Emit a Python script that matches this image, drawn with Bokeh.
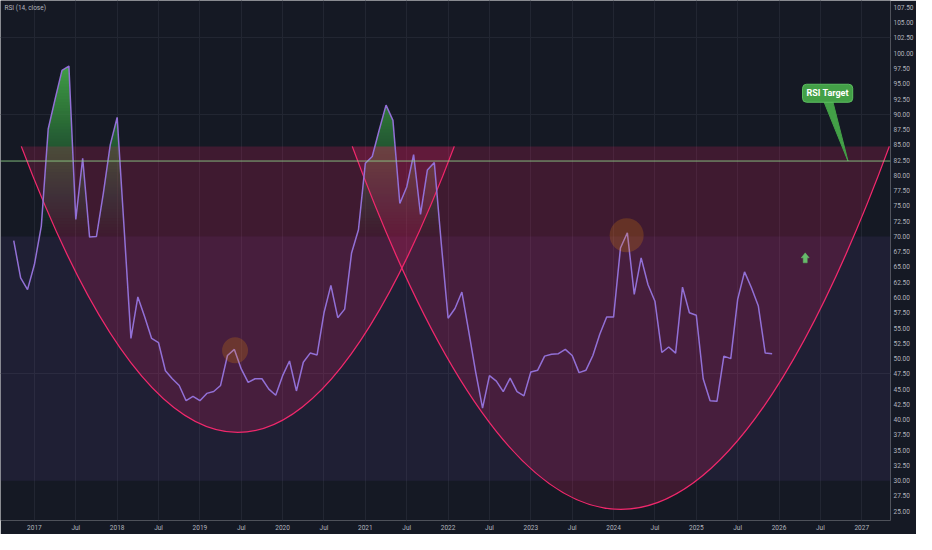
import numpy as np
from bokeh.plotting import figure
from bokeh.models import (FixedTicker, BoxAnnotation, Label, Range1d, Span,
                          NumeralTickFormatter)
from bokeh.embed import file_html
from bokeh.resources import INLINE

# ---------------- data ----------------
# month index: 0 = Jan 2017 ; series starts Oct 2016
start_month = -3
rsi = [
    69.3, 63.2, 61.3,                                                  # 2016 Oct-Dec
    65.4, 71.7, 87.6, 92.5, 97.2, 97.9, 72.8, 82.8, 69.9, 70.0, 77.1, 85.0,   # 2017
    89.5, 71.5, 53.3, 60.1, 56.8, 53.3, 52.6, 48.0, 46.7, 45.6, 43.1, 43.8,   # 2018
    43.1, 44.3, 44.6, 45.6, 50.5, 51.5, 48.3, 46.1, 46.7, 46.7, 45.0, 44.0,   # 2019
    47.2, 49.6, 44.7, 49.4, 50.9, 50.6, 57.5, 62.0, 56.7, 58.1, 67.3, 71.1,   # 2020
    82.0, 83.1, 87.4, 91.5, 89.0, 75.4, 78.1, 83.4, 73.6, 80.9, 82.1, 69.0,   # 2021
    56.6, 58.2, 60.9, 54.4, 47.8, 41.9, 47.2, 46.3, 44.6, 46.8, 44.6, 43.9,   # 2022
    47.8, 48.1, 50.4, 50.7, 50.8, 51.5, 50.5, 47.7, 48.1, 50.5, 54.0, 56.8,   # 2023
    56.8, 68.1, 70.6, 60.5, 66.5, 62.1, 59.4, 51.0, 51.9, 50.9, 61.7, 57.5,   # 2024
    57.1, 46.7, 43.1, 43.0, 50.4, 50.0, 59.7, 64.2, 61.6, 58.6, 50.9, 50.8,   # 2025
]
months = np.arange(start_month, start_month + len(rsi))

tick_months = list(range(0, 127, 6))
tick_labels = ["2017", "Jul", "2018", "Jul", "2019", "Jul", "2020", "Jul",
               "2021", "Jul", "2022", "Jul", "2023", "Jul", "2024", "Jul",
               "2025", "Jul", "2026", "Jul", "2027", "Jul"]
y_ticks = [22.5 + 2.5 * i for i in range(35)]

overbought = 70
oversold = 30

# cup drawings (quadratic curves): start month, end month, rim value, bottom value
cup_start = [-1.9, 46.1]
cup_end = [60.9, 124.0]
cup_rim = [84.75, 84.75]
cup_bottom = [37.9, 25.3]

target_level = 82.35
target_month = 118.0
callout_month = 115.05
callout_value = 93.45
callout_text = "RSI Target"

highlight_months = [29.1, 85.9]
highlight_values = [51.35, 70.2]

arrow_month = 111.8
arrow_value = 66.5

# ---------------- figure ----------------
BG = "#151924"
PX_X = 6.91   # pixels per month
PX_Y = 6.13   # pixels per RSI point
FRAME_W = 892
FRAME_H = 522
x0r = -4.92
y1r = 108.64
p = figure(width=916, height=534, output_backend="svg", toolbar_location=None,
           x_range=Range1d(x0r, x0r + FRAME_W / PX_X),
           y_range=Range1d(y1r - FRAME_H / PX_Y, y1r),
           y_axis_location="right", min_border_left=0, min_border_right=916 - FRAME_W,
           min_border_top=0, min_border_bottom=534 - FRAME_H)
p.background_fill_color = BG
p.border_fill_color = BG
p.outline_line_color = None

# axes
p.yaxis.ticker = FixedTicker(ticks=y_ticks)
p.yaxis.formatter = NumeralTickFormatter(format="0.00")
p.xaxis.ticker = FixedTicker(ticks=tick_months)
p.xaxis.major_label_overrides = {m: l for m, l in zip(tick_months, tick_labels)}
for ax in (p.xaxis, p.yaxis):
    ax.axis_line_color = None
    ax.major_tick_line_color = None
    ax.minor_tick_line_color = None
    ax.major_tick_out = 0
    ax.major_tick_in = 0
    ax.minor_tick_out = 0
    ax.major_label_text_color = "#b2b5be"
    ax.major_label_text_font_size = "6.5px"
    ax.major_label_text_font = "Roboto"
    ax.major_label_standoff = 3

p.xgrid.grid_line_color = "#222632"
p.xgrid.grid_line_width = 1
p.ygrid.ticker = FixedTicker(ticks=[102.5, 90.0, 47.5])
p.ygrid.grid_line_color = "#222632"

# RSI background band
p.add_layout(BoxAnnotation(bottom=oversold, top=overbought, fill_color="#7e57c2",
                           fill_alpha=0.1, line_color=None, level="underlay"))

# overbought gradient fill (green, transparent at 70 -> opaque at 100),
# built from overlapping layers so there are no seams
xf = np.linspace(months[0], months[-1], (len(months) - 1) * 12 + 1)
rf = np.interp(xf, months, rsi)
step = 0.5
lo = float(overbought)
prev_a = 0.0
while lo < rf.max():
    target_a = min(0.999, (lo + step - 70) / 30)
    a_k = 1 - (1 - target_a) / (1 - prev_a)
    p.varea(x=xf, y1=np.full_like(xf, lo), y2=np.maximum(rf, lo),
            fill_color="#4caf50", fill_alpha=a_k)
    prev_a = target_a
    lo += step

# cups
t = np.linspace(0, 1, 241)
for x0, x1, rim, bot in zip(cup_start, cup_end, cup_rim, cup_bottom):
    xc = (x0 + x1) / 2
    yc = 2 * bot - rim
    bx = (1 - t) ** 2 * x0 + 2 * (1 - t) * t * xc + t ** 2 * x1
    by = (1 - t) ** 2 * rim + 2 * (1 - t) * t * yc + t ** 2 * rim
    p.patch(bx, by, fill_color="#e91e63", fill_alpha=0.2, line_color=None)
    p.quadratic(x0=[x0], y0=[rim], x1=[x1], y1=[rim], cx=[xc], cy=[yc],
                line_color="#f0286c", line_width=1.3)

# RSI line
p.line(months, rsi, line_color="#9270d6", line_width=1.5)

# target horizontal line
p.add_layout(Span(location=target_level, dimension="width", line_color="#8fd18a",
                  line_width=1, line_alpha=0.85))

# highlight circles
p.scatter(highlight_months, highlight_values, size=[26, 34], fill_color="#ff9800",
          fill_alpha=0.2, line_color=None)

# arrow marker (outline in pixels around the anchor)
apx = np.array([0, 4, 2, 2, -2, -2, -4])
apy = np.array([-5, 0, 0, 5, 5, 0, 0])
p.patch(arrow_month + apx / PX_X, arrow_value - apy / PX_Y,
        fill_color="#66bb6a", line_color="#66bb6a", line_width=0.5)

# callout pointer + box
p.patch([callout_month - 0.55, callout_month + 0.75, target_month],
        [callout_value - 1.35, callout_value - 1.35, target_level],
        fill_color="#43a047", line_color="#43a047", line_width=1)
p.add_layout(Label(x=callout_month, y=callout_value, text=callout_text,
                   text_align="center", text_baseline="middle",
                   text_font="Roboto", text_font_size="9px", text_font_style="bold",
                   text_color="white", background_fill_color="#43a047",
                   border_line_color="#5cbf60", border_line_width=1,
                   padding=4, border_radius=4))

# pane title
p.add_layout(Label(x=x0r, y=107.4, x_offset=4, text="RSI (14, close)",
                   text_baseline="middle", text_font="Roboto", text_font_size="6.5px",
                   text_color="#b2b5be"))

open("out.html", "w").write(file_html(p, INLINE))
